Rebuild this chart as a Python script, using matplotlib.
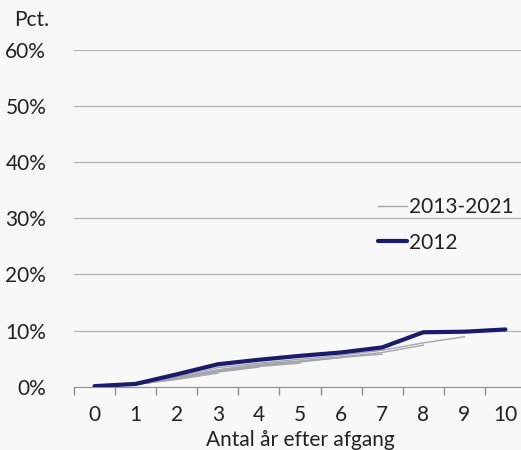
import numpy as np
import matplotlib.pyplot as plt

plt.rcParams['font.family'] = ['Lato', 'DejaVu Sans']

years = list(range(11))
y2012 = [0.1, 0.5, 2.2, 4.0, 4.8, 5.5, 6.1, 7.0, 9.7, 9.8, 10.2]

# cohorts 2013-2021, each observed one year less than the previous
cohorts = {
    2013: [0.1, 0.4, 1.8, 3.4, 4.2, 4.9, 5.6, 6.5, 7.8, 8.9],
    2014: [0.1, 0.4, 1.6, 3.0, 4.0, 4.6, 5.3, 6.1, 7.4],
    2015: [0.1, 0.4, 1.6, 3.0, 3.8, 4.5, 5.2, 5.8],
    2016: [0.1, 0.4, 1.5, 2.8, 3.7, 4.4, 5.2],
    2017: [0.1, 0.4, 1.5, 2.7, 3.6, 4.2],
    2018: [0.1, 0.4, 1.4, 2.6, 3.5],
    2019: [0.1, 0.4, 1.3, 2.4],
    2020: [0.1, 0.4, 1.4],
    2021: [0.1, 0.4],
}
yticks = [0, 10, 20, 30, 40, 50, 60]

bg = '#f8f8f8'
navy = '#1b1b6b'
grey = '#a3a7ab'
txt = '#222222'
fs = 15

fig = plt.figure(figsize=(5.21, 4.5), dpi=100, facecolor=bg)
ax = fig.add_axes([74 / 521, 63.3 / 450, 452 / 521, 336.7 / 450], facecolor=bg)

first = True
for yr, vals in cohorts.items():
    ax.plot(years[:len(vals)], vals, color=grey, lw=1.0,
            label='2013-2021' if first else None, zorder=2)
    first = False
ax.plot(years, y2012, color=navy, lw=3, label='2012', zorder=3,
        solid_capstyle='round')

ax.set_xlim(-0.5, 10.5)
ax.set_ylim(0, 60)
ax.set_yticks(yticks)
ax.set_yticklabels([f'{v}%' for v in yticks])
ax.grid(axis='y', color='#b4b4b4', lw=0.9)
ax.set_axisbelow(True)

ax.set_xticks(np.arange(-0.5, 11, 1))
ax.set_xticklabels([])
ax.set_xticks(years, minor=True)
ax.set_xticklabels([str(y) for y in years], minor=True)
ax.tick_params(axis='x', which='major', length=6, color='#909090', width=1)
ax.tick_params(axis='x', which='minor', length=0, pad=13, labelsize=fs,
               labelcolor=txt)
ax.tick_params(axis='y', length=0, pad=20, labelsize=fs, labelcolor=txt)

for s in ['left', 'right', 'top']:
    ax.spines[s].set_visible(False)
ax.spines['bottom'].set_color('#909090')

ax.set_xlabel('Antal år efter afgang', fontsize=fs, color=txt, labelpad=4)
fig.text(14 / 521, 1 - 20 / 450, 'Pct.', fontsize=fs, color=txt, va='center')

ax.legend(loc='upper left', bbox_to_anchor=(0.6726, 0.563), frameon=False,
          fontsize=fs, handlelength=1.4, handletextpad=0.1, labelspacing=0.75,
          borderpad=0, borderaxespad=0, labelcolor=txt)

fig.savefig('out.png', dpi=100, facecolor=bg)
